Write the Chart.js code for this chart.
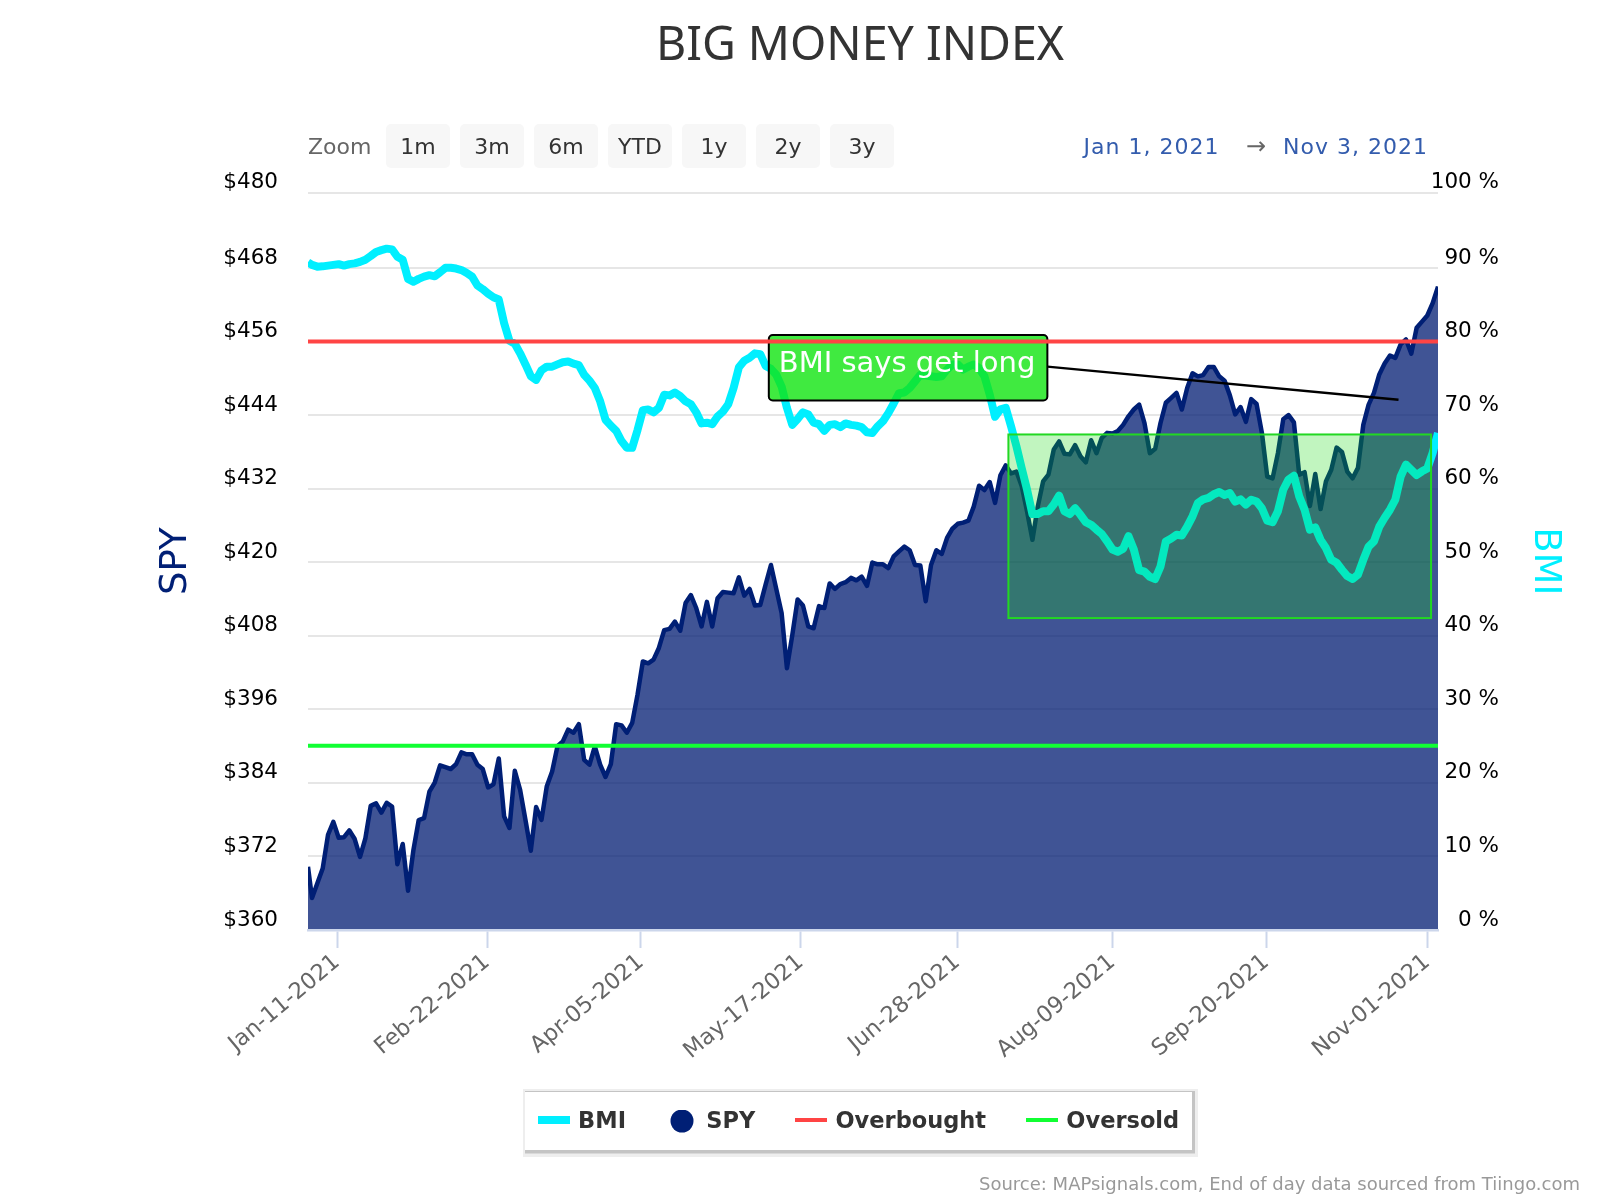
<!DOCTYPE html>
<html>
<head>
<meta charset="utf-8">
<title>Big Money Index</title>
<script src="https://cdn.jsdelivr.net/npm/chart.js@4/dist/chart.umd.min.js"></script>
<style>
html,body{margin:0;padding:0;background:#fff;}
#wrap{position:relative;width:1600px;height:1200px;overflow:hidden;font-family:"DejaVu Sans",sans-serif;}
canvas{position:absolute;left:0;top:0;}
.t{position:absolute;white-space:nowrap;line-height:1;}
.btn{position:absolute;top:124px;width:64px;height:44px;background:#f7f7f7;border-radius:5px;color:#333;font-size:22px;line-height:46px;text-align:center;}
</style>
</head>
<body>
<div id="wrap">
<canvas id="c" width="1600" height="1200"></canvas>
<div id="ui"></div>
</div>
<script>
const chartTitle = "BIG MONEY INDEX";
const sourceText = "Source: MAPsignals.com, End of day data sourced from Tiingo.com";
const zoomButtons = ["1m","3m","6m","YTD","1y","2y","3y"];
const rangeFrom = "Jan 1, 2021";
const rangeTo = "Nov 3, 2021";

// x tick slots, counted in trading days after Jan-04-2021
const xTickSlots = [4.7,32.8,61.65,91.6,120.9,150,178.8,209];
const xTickLabels = ["Jan-11-2021","Feb-22-2021","Apr-05-2021","May-17-2021","Jun-28-2021","Aug-09-2021","Sep-20-2021","Nov-01-2021"];
const spyTickLabels = ["$360","$372","$384","$396","$408","$420","$432","$444","$456","$468","$480"];
const bmiTickLabels = ["0 %","10 %","20 %","30 %","40 %","50 %","60 %","70 %","80 %","90 %","100 %"];
const tickFractions = [0,0.09973,0.19946,0.29919,0.39892,0.49865,0.59838,0.69811,0.79784,0.89757,1];

// close on the opening edge of the range (Jan 1), then one value per trading day from Jan-04-2021
const spyEdge = 370.3;
const spy = [
365.2,367.6,370.0,375.5,377.6,375.0,375.1,376.2,374.8,371.9,
374.9,380.2,380.6,379.1,380.7,380.1,370.7,374.0,366.4,373.0,
377.9,378.2,382.5,384.0,386.8,386.5,386.2,387.0,388.9,388.6,
388.6,386.9,386.2,383.2,383.7,387.9,378.5,376.6,385.9,382.8,
377.9,372.9,380.0,377.9,383.4,385.8,389.9,390.7,392.6,392.1,
393.5,387.7,386.9,389.9,386.9,384.9,387.0,393.5,393.3,392.1,
393.7,398.3,403.7,403.4,404.0,405.9,408.8,409.0,410.2,408.7,
413.2,414.5,412.4,409.4,413.4,409.4,414.0,415.0,414.9,414.8,
417.4,414.4,415.5,412.8,412.9,416.2,419.4,415.5,411.6,402.6,
408.0,413.8,412.8,409.4,409.1,412.7,412.4,416.4,415.5,416.3,
416.6,417.3,416.9,417.5,416.0,419.8,419.5,419.5,418.9,420.8,
421.6,422.4,421.8,419.4,419.3,413.5,419.4,421.8,421.2,423.8,
425.3,426.1,426.3,426.6,428.9,432.3,431.6,432.9,429.5,434.0,
435.6,434.3,434.6,432.2,428.1,423.5,428.9,433.0,434.1,438.2,
439.5,437.5,437.4,438.9,437.1,436.1,439.7,437.6,440.1,440.9,
440.8,441.2,442.2,443.6,444.7,445.5,442.5,437.6,438.3,442.5,
445.8,446.6,447.4,444.7,448.2,450.6,450.1,450.3,451.6,451.6,
450.1,449.4,447.0,443.9,445.1,442.7,446.4,445.6,440.9,433.8,
433.5,437.6,443.1,443.8,442.6,434.1,434.5,429.0,434.2,428.5,
433.0,434.9,438.5,437.8,434.6,433.5,435.2,442.2,445.5,447.4,
450.4,452.2,453.5,453.1,455.3,456.1,453.8,458.0,459.0,460.0,
462.0,464.7];

const bmiEdge = 90.55;
const bmi = [
90.2,89.96,90.0,90.1,90.2,90.3,90.1,90.3,90.4,90.6,
90.9,91.4,91.95,92.2,92.4,92.3,91.3,90.9,88.3,87.9,
88.3,88.6,88.8,88.65,89.2,89.8,89.8,89.7,89.5,89.1,
88.6,87.4,86.9,86.3,85.8,85.5,82.3,79.9,79.5,78.2,
76.7,75.1,74.6,75.9,76.4,76.4,76.7,77.0,77.1,76.8,
76.6,75.3,74.5,73.5,71.7,69.2,68.4,67.7,66.3,65.4,
65.4,67.8,70.5,70.6,70.2,70.8,72.6,72.5,72.9,72.4,
71.7,71.3,70.2,68.7,68.8,68.6,69.65,70.3,71.3,73.5,
76.3,77.2,77.6,78.2,78.1,76.5,76.1,75.3,73.7,70.8,
68.5,69.3,70.2,69.9,68.8,68.6,67.7,68.5,68.6,68.2,
68.7,68.5,68.4,68.2,67.5,67.4,68.3,69.0,70.1,71.4,
72.8,72.9,73.5,74.4,75.3,75.2,75.1,75.0,75.1,76.0,
76.7,76.7,76.0,76.4,76.7,76.2,75.1,72.6,69.6,70.6,
70.8,68.3,65.6,62.6,59.7,56.4,56.4,56.8,56.8,57.7,
58.9,56.8,56.4,57.2,56.3,55.3,54.95,54.3,53.7,52.7,
51.6,51.3,51.7,53.4,51.6,48.8,48.6,47.9,47.6,49.3,
52.7,53.1,53.6,53.5,54.7,56.1,57.9,58.4,58.6,59.1,
59.4,59.0,59.25,58.1,58.4,57.7,58.35,58.1,57.2,55.5,
55.3,56.8,59.7,61.1,61.6,58.8,57.0,54.3,54.6,52.9,
51.8,50.2,49.8,48.85,48.0,47.6,48.2,50.2,52.0,52.7,
54.7,55.9,57.0,58.35,61.5,63.1,62.4,61.7,62.2,62.6,
64.7,67.4];

const overboughtLevel = 79.8;
const oversoldLevel = 25;

const xAxisStart = -0.75;
const xAxisEnd = 211;
const seriesPoints = (edge, values) => [{x:xAxisStart,y:edge}].concat(values.map((y,i)=>({x:i,y})));
const levelPoints = level => [{x:xAxisStart,y:level},{x:xAxisEnd,y:level}];

// annotations, in axis units (trading-day slot, BMI %)
const zoneBox = {x0:130.5,x1:209.7,y0:42.3,y1:67.2};
const calloutBox = {x0:85.6,x1:137.8,y0:71.8,y1:80.7,text:"BMI says get long"};
const calloutLine = {x0:137.8,y0:76.4,x1:203.6,y1:71.9};

// range selector, date range and source note
const ui = document.getElementById('ui');
function addText(text, css){const d=document.createElement('div');d.className='t';d.textContent=text;d.style.cssText+=css;ui.appendChild(d);return d;}
addText("Zoom","left:308px;top:136px;font-size:22px;color:#666;");
zoomButtons.forEach((b,i)=>{const d=document.createElement('div');d.className='btn';d.textContent=b;d.style.left=(386+74*i)+'px';ui.appendChild(d);});
addText(rangeFrom,"left:1083.5px;top:136px;font-size:22px;color:#335cad;letter-spacing:1px;");
addText("\u2192","left:1246px;top:134px;font-size:24px;color:#666;");
addText(rangeTo,"right:172px;top:136px;font-size:22px;color:#335cad;letter-spacing:1px;");
addText(sourceText,"right:20px;top:1175px;font-size:18px;color:#999;");

// legend markers: 32px wide glyphs set 3px into the 26px legend box on each side
function marker(draw){
  const m=document.createElement('canvas'); m.width=32; m.height=24;
  draw(m.getContext('2d')); return m;
}
const legendMarkers=[
  marker(g=>{g.fillStyle='#00efff';g.fillRect(0,6,32,8);}),
  marker(g=>{g.fillStyle='#001f75';g.beginPath();g.arc(16,11,11.5,0,Math.PI*2);g.fill();}),
  marker(g=>{g.fillStyle='#ff4444';g.fillRect(0,8,32,4);}),
  marker(g=>{g.fillStyle='#11ff33';g.fillRect(0,8,32,4);})
];

const annotationPlugin = {
  id:'annotations',
  beforeDraw(chart){
    const g = chart.ctx;
    g.save();
    g.fillStyle='#eeeeee'; g.fillRect(523,1089,675,68);
    g.fillStyle='#c4c4c4'; g.fillRect(525,1091,670,62.5);
    g.fillStyle='#ffffff'; g.fillRect(525,1092,667,58);
    g.restore();
  },
  beforeDatasetDraw(chart,args){
    if(args.meta.label!=='Overbought') return;
    const g = chart.ctx, X = chart.scales.x, Y = chart.scales.bmiAxis;
    g.save();
    const zx0=X.getPixelForValue(zoneBox.x0), zx1=X.getPixelForValue(zoneBox.x1);
    const zy0=Y.getPixelForValue(zoneBox.y1), zy1=Y.getPixelForValue(zoneBox.y0);
    g.fillStyle='rgba(15,215,8,0.26)';
    g.fillRect(zx0,zy0,zx1-zx0,zy1-zy0);
    g.strokeStyle='#22d822'; g.lineWidth=2;
    g.strokeRect(zx0,zy0,zx1-zx0,zy1-zy0);

    g.strokeStyle='#000'; g.lineWidth=2.5;
    g.beginPath();
    g.moveTo(X.getPixelForValue(calloutLine.x0),Y.getPixelForValue(calloutLine.y0));
    g.lineTo(X.getPixelForValue(calloutLine.x1),Y.getPixelForValue(calloutLine.y1));
    g.stroke();

    const bx0=X.getPixelForValue(calloutBox.x0), bx1=X.getPixelForValue(calloutBox.x1);
    const by0=Y.getPixelForValue(calloutBox.y1), by1=Y.getPixelForValue(calloutBox.y0);
    g.beginPath();
    g.roundRect(bx0,by0,bx1-bx0,by1-by0,4);
    g.fillStyle='rgba(16,229,16,0.8)';
    g.fill();
    g.strokeStyle='#000'; g.lineWidth=2; g.stroke();
    g.fillStyle='#fff';
    g.font='29px "DejaVu Sans"';
    g.textBaseline='alphabetic'; g.textAlign='left';
    g.fillText(calloutBox.text,bx0+10,by0+37);
    g.restore();
  }
};

const gridTicks = (scale,labels) => {
  const span = scale.max-scale.min;
  scale.ticks = tickFractions.map((f,i)=>({value:scale.min+span*f,label:labels[i]}));
};

new Chart(document.getElementById('c'),{
  type:'line',
  plugins:[annotationPlugin],
  data:{datasets:[
    {label:'BMI',yAxisID:'bmiAxis',data:seriesPoints(bmiEdge,bmi),borderColor:'#00efff',borderWidth:8,pointRadius:0,tension:0,fill:false,order:0,borderJoinStyle:'round'},
    {label:'SPY',yAxisID:'spyAxis',data:seriesPoints(spyEdge,spy),borderColor:'#001f75',backgroundColor:'rgba(0,27,113,0.75)',borderWidth:4.5,pointRadius:0,tension:0,fill:'start',order:1,borderJoinStyle:'round'},
    {label:'Overbought',yAxisID:'bmiAxis',data:levelPoints(overboughtLevel),borderColor:'#ff4444',borderWidth:4,pointRadius:0,fill:false,order:-1},
    {label:'Oversold',yAxisID:'bmiAxis',data:levelPoints(oversoldLevel),borderColor:'#11ff33',borderWidth:4,pointRadius:0,fill:false,order:-1}
  ]},
  options:{
    responsive:false,animation:false,devicePixelRatio:1,
    parsing:{xAxisKey:'x',yAxisKey:'y'},
    layout:{autoPadding:false,padding:{left:152,right:32,top:0,bottom:56.75}},
    scales:{
      x:{
        type:'linear',min:xAxisStart,max:xAxisEnd,
        afterBuildTicks(s){s.ticks=xTickSlots.map(v=>({value:v}));},
        afterFit(s){s.height=137.75;},
        grid:{drawOnChartArea:false,drawTicks:true,tickLength:18,tickWidth:2,tickColor:'#ccd6eb',color:'#ccd6eb'},
        border:{display:true,color:'#ccd6eb',width:2.5,z:1},
        ticks:{autoSkip:false,maxRotation:40,minRotation:40,padding:1,color:'#666',font:{family:'"DejaVu Sans"',size:22.5},
          callback(v,i){return xTickLabels[i];}}
      },
      spyAxis:{
        position:'left',min:360,max:480,
        afterBuildTicks(s){gridTicks(s,spyTickLabels);},
        afterFit(s){s.width=156;},
        grid:{color:'#e6e6e6',lineWidth:2,drawTicks:false},
        border:{display:false},
        title:{display:true,text:'SPY',color:'#001f75',font:{family:'"DejaVu Sans"',size:37},padding:{top:2,bottom:0}},
        ticks:{padding:30,color:'#000',font:{family:'"DejaVu Sans"',size:21.5,lineHeight:'20px'},autoSkip:false,
          callback(v,i){return [spyTickLabels[i],''];}}
      },
      bmiAxis:{
        position:'right',min:0,max:100,
        afterBuildTicks(s){gridTicks(s,bmiTickLabels);},
        afterFit(s){s.width=130;},
        grid:{drawOnChartArea:false,drawTicks:false},
        border:{display:false},
        title:{display:true,text:'BMI',color:'#00efff',font:{family:'"DejaVu Sans"',size:37},padding:{top:1,bottom:0}},
        ticks:{mirror:true,padding:61,crossAlign:'near',color:'#000',font:{family:'"DejaVu Sans"',size:21.5,lineHeight:'20px'},autoSkip:false,
          callback(v,i){return [bmiTickLabels[i],''];}}
      }
    },
    plugins:{
      title:{display:true,text:chartTitle,color:'#333',font:{family:'"Noto Sans"',size:46.5,weight:'normal'},padding:{top:18.5,bottom:118.3}},
      legend:{display:true,position:'bottom',onClick:null,
        labels:{usePointStyle:true,pointStyleWidth:26,boxHeight:23,padding:43,color:'#333',font:{family:'"DejaVu Sans"',size:22.5,weight:'bold'},
          generateLabels(chart){
            return chart.data.datasets.map((d,i)=>({text:d.label,datasetIndex:i,fillStyle:d.borderColor,strokeStyle:d.borderColor,lineWidth:0,pointStyle:legendMarkers[i],fontColor:'#333',hidden:false}));
          }}
      },
      tooltip:{enabled:false}
    }
  }
});
</script>
</body>
</html>
